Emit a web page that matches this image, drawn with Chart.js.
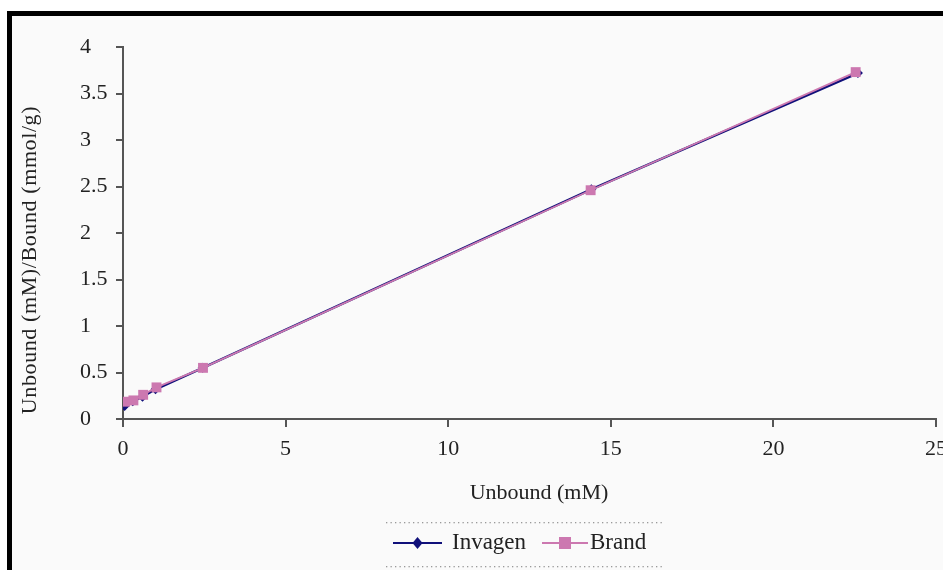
<!DOCTYPE html>
<html><head><meta charset="utf-8">
<script src="https://cdn.jsdelivr.net/npm/chart.js@4.4.0/dist/chart.umd.min.js"></script>
<style>html,body{margin:0;padding:0;background:#fff;}canvas{display:block;}</style>
</head><body>
<canvas id="c" width="943" height="570"></canvas>
<script>
const seriesNames = ["Invagen", "Brand"];
const invagenX = [0.05, 0.3, 0.6, 1.0, 2.45, 14.4, 22.6];
const invagenY = [0.14, 0.19, 0.24, 0.32, 0.55, 2.47, 3.72];
const brandX = [0.06, 0.32, 0.62, 1.03, 2.46, 14.38, 22.53];
const brandY = [0.186, 0.2, 0.26, 0.34, 0.55, 2.46, 3.73];
const xTicks = [0, 5, 10, 15, 20, 25];
const yTicks = [0, 0.5, 1, 1.5, 2, 2.5, 3, 3.5, 4];
const xTitle = "Unbound (mM)";
const yTitle = "Unbound (mM)/Bound (mmol/g)";

const NAVY = '#10107a';
const PINK = '#cc78b0';
const FONT = '"Liberation Serif", "DejaVu Serif", serif';
const TXT = '#222';

function pts(xs, ys){ return xs.map((x,i)=>({x:x, y:ys[i]})); }

const decor = {
  id: 'decor',
  beforeDraw(chart){
    const ctx = chart.ctx;
    ctx.save();
    ctx.fillStyle = '#ffffff';
    ctx.fillRect(0,0,chart.width,chart.height);
    ctx.fillStyle = '#fafafa';
    ctx.fillRect(12,16,chart.width-12,chart.height-16);
    ctx.fillStyle = '#000';
    ctx.fillRect(7,11,chart.width-7,5);
    ctx.fillRect(7,11,5,chart.height-11);
    ctx.restore();
  },
  afterDraw(chart){
    const ctx = chart.ctx;
    ctx.save();
    ctx.fillStyle = TXT;
    ctx.font = '22px ' + FONT;
    // y title
    ctx.save();
    ctx.translate(30, 260);
    ctx.rotate(-Math.PI/2);
    ctx.textAlign = 'center';
    ctx.textBaseline = 'middle';
    if ('letterSpacing' in ctx) ctx.letterSpacing = '0.6px';
    ctx.fillText(yTitle, 0, 0);
    ctx.restore();
    // x title
    ctx.textAlign = 'center';
    ctx.textBaseline = 'middle';
    ctx.fillText(xTitle, 539, 493);
    // legend dotted lines
    ctx.fillStyle = '#999';
    for (let x = 386; x <= 662; x += 4.5) {
      ctx.fillRect(x, 522, 1.3, 1.3);
      ctx.fillRect(x, 566, 1.3, 1.3);
    }
    // legend items
    const ds = chart.data.datasets;
    const items = [
      {ds: ds[0], x0: 393, x1: 442, text: seriesNames[0], tx: 452},
      {ds: ds[1], x0: 542, x1: 588, text: seriesNames[1], tx: 590}
    ];
    const ly = 543;
    ctx.font = '23px ' + FONT;
    items.forEach(it => {
      ctx.strokeStyle = it.ds.borderColor;
      ctx.lineWidth = 2;
      ctx.beginPath(); ctx.moveTo(it.x0, ly); ctx.lineTo(it.x1, ly); ctx.stroke();
      const cx = (it.x0 + it.x1)/2;
      ctx.fillStyle = it.ds.pointBackgroundColor;
      if (it.ds.pointStyle === 'rectRot') {
        ctx.beginPath();
        ctx.moveTo(cx, ly-6); ctx.lineTo(cx+5, ly); ctx.lineTo(cx, ly+6); ctx.lineTo(cx-5, ly); ctx.closePath(); ctx.fill();
      } else {
        ctx.fillRect(cx-6, ly-6, 12, 12);
      }
      ctx.fillStyle = TXT;
      ctx.textAlign = 'left';
      ctx.textBaseline = 'middle';
      ctx.fillText(it.text, it.tx, ly);
    });
    ctx.restore();
  }
};

new Chart(document.getElementById('c'), {
  type: 'scatter',
  data: {
    datasets: [
      {
        label: seriesNames[0],
        data: pts(invagenX, invagenY),
        showLine: true,
        borderColor: NAVY,
        backgroundColor: NAVY,
        pointBackgroundColor: NAVY,
        pointBorderColor: NAVY,
        pointStyle: 'rectRot',
        pointRadius: 5,
        pointBorderWidth: 0,
        borderWidth: 2.5,
        order: 1
      },
      {
        label: seriesNames[1],
        data: pts(brandX, brandY),
        showLine: true,
        borderColor: PINK,
        backgroundColor: PINK,
        pointBackgroundColor: PINK,
        pointBorderColor: PINK,
        pointStyle: 'rect',
        pointRadius: 7,
        pointBorderWidth: 0,
        borderWidth: 1.8,
        order: 0
      }
    ]
  },
  options: {
    responsive: false,
    animation: false,
    layout: { padding: { left: 80, top: 47, right: 3, bottom: 0 } },
    plugins: { legend: { display: false }, tooltip: { enabled: false } },
    scales: {
      x: {
        type: 'linear', min: 0, max: 25,
        afterBuildTicks(s){ s.ticks = xTicks.map(v=>({value:v})); },
        afterFit(s){ s.height = 151; s.paddingLeft = 0; s.paddingRight = 0; },
        ticks: { font: { family: FONT, size: 22 }, color: TXT, padding: 9, maxRotation: 0, autoSkip: false,
                 callback: v => String(v) },
        grid: { display: true, drawOnChartArea: false, drawTicks: true, tickLength: 8, color: '#555', lineWidth: 2 },
        border: { display: true, color: '#555', width: 2 }
      },
      y: {
        type: 'linear', min: 0, max: 4,
        afterBuildTicks(s){ s.ticks = yTicks.map(v=>({value:v})); },
        afterFit(s){ s.width = 43; s.paddingTop = 0; s.paddingBottom = 0; },
        ticks: { font: { family: FONT, size: 22 }, color: TXT, crossAlign: 'far', autoSkip: false,
                 callback: v => String(v) },
        grid: { display: true, drawOnChartArea: false, drawTicks: true, tickLength: 7, color: '#555', lineWidth: 2 },
        border: { display: true, color: '#555', width: 2 }
      }
    }
  },
  plugins: [decor]
});
</script>
</body></html>
